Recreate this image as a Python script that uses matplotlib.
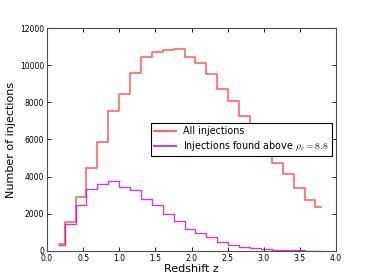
import matplotlib
matplotlib.use("Agg")
import matplotlib.pyplot as plt

plt.rcParams['mathtext.fontset'] = 'cm'

# bin centres in redshift
z = [0.17, 0.32, 0.47, 0.62, 0.77, 0.92, 1.07, 1.22, 1.38, 1.53, 1.68, 1.83, 1.98,
     2.13, 2.28, 2.43, 2.58, 2.73, 2.89, 3.04, 3.19, 3.34, 3.49, 3.64, 3.79]
all_inj = [350, 1550, 2880, 4480, 5880, 7520, 8470, 9600, 10450, 10720, 10810, 10850,
           10450, 10130, 9530, 8700, 8090, 7250, 6500, 5650, 4750, 4160, 3410, 2760, 2390]
found = [330, 1440, 2460, 3360, 3630, 3790, 3470, 3300, 2800, 2460, 1980, 1590,
         1190, 990, 770, 490, 345, 235, 150, 100, 75, 50, 35, 20, 10]

fig = plt.figure(figsize=(3.74, 2.80), dpi=100)
ax = fig.add_axes([0.1257, 0.1036, 0.7727, 0.7964])

ax.step(z, all_inj, where='mid', color='r', alpha=0.6, lw=1.2, label='All injections')
ax.step(z, found, where='mid', color='m', alpha=0.75, lw=1.0,
        label=r'Injections found above $\rho_c = 8.8$')

ax.set_xlim(0, 4.0)
ax.set_ylim(0, 12000)
ax.set_xticks([0.0, 0.5, 1.0, 1.5, 2.0, 2.5, 3.0, 3.5, 4.0])
ax.set_yticks([0, 2000, 4000, 6000, 8000, 10000, 12000])
ax.tick_params(direction='in', top=True, right=True, labelsize=5.5, length=3,
               width=0.6, pad=2)
for s in ax.spines.values():
    s.set_linewidth(0.8)
    s.set_color('0.3')

ax.set_xlabel('Redshift z', fontsize=8, labelpad=1)
ax.set_ylabel('Number of injections', fontsize=8, labelpad=3)

leg = ax.legend(loc='center right', fontsize=6.9, fancybox=False, framealpha=1,
                edgecolor='black', handlelength=2.2, borderaxespad=0.4,
                borderpad=0.35, labelspacing=0.3)
leg.get_frame().set_linewidth(0.8)
for line in leg.get_lines():
    line.set_linewidth(1.5)

fig.savefig('out.png', dpi=100)
